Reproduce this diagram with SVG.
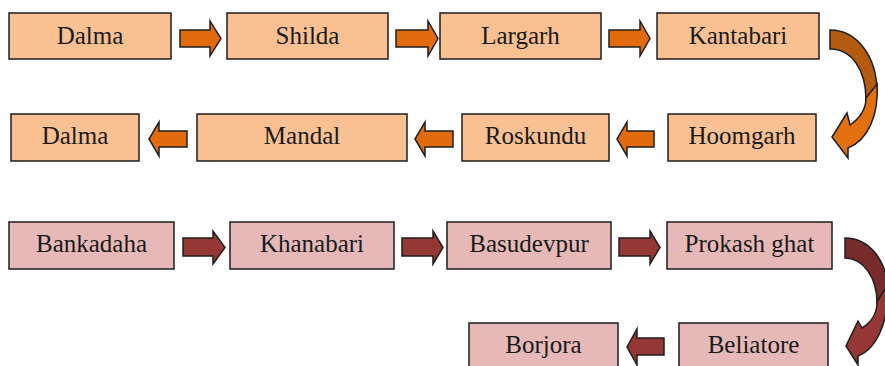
<svg xmlns="http://www.w3.org/2000/svg" width="885" height="366" viewBox="0 0 885 366">
<style>
.bo{fill:#F9C092;stroke:#1e1e1e;stroke-width:1.5}
.bp{fill:#E6B9B8;stroke:#1e1e1e;stroke-width:1.5}
.ao{fill:#E26C0D;stroke:#1e1e1e;stroke-width:1.5;stroke-linejoin:miter}
.ap{fill:#953735;stroke:#1e1e1e;stroke-width:1.5;stroke-linejoin:miter}
.cv{stroke:#1e1e1e;stroke-width:1.5;stroke-linejoin:miter}
text{font-family:"Liberation Serif","Times New Roman",serif;font-size:25px;fill:#1a1a1a;text-anchor:middle}
</style>
<rect width="885" height="366" fill="#fff"/>
<g id="n-dalma1"><rect class="bo" x="9" y="13" width="162" height="46"/><text x="90" y="44">Dalma</text></g>
<g id="n-shilda"><rect class="bo" x="227" y="13" width="161" height="46"/><text x="307.5" y="44">Shilda</text></g>
<g id="n-largarh"><rect class="bo" x="440" y="13" width="161" height="46"/><text x="520.5" y="44">Largarh</text></g>
<g id="n-kantabari"><rect class="bo" x="657" y="13" width="162" height="46"/><text x="738" y="44">Kantabari</text></g>
<g id="n-dalma2"><rect class="bo" x="11" y="114" width="128" height="47"/><text x="75" y="144">Dalma</text></g>
<g id="n-mandal"><rect class="bo" x="197" y="114" width="210" height="47"/><text x="302" y="144">Mandal</text></g>
<g id="n-roskundu"><rect class="bo" x="462" y="114" width="147" height="47"/><text x="535.5" y="144">Roskundu</text></g>
<g id="n-hoomgarh"><rect class="bo" x="668" y="114" width="148" height="47"/><text x="742" y="144">Hoomgarh</text></g>
<g id="n-bankadaha"><rect class="bp" x="9" y="222" width="165" height="47"/><text x="91.5" y="252">Bankadaha</text></g>
<g id="n-khanabari"><rect class="bp" x="230" y="222" width="164" height="47"/><text x="312" y="252">Khanabari</text></g>
<g id="n-basudevpur"><rect class="bp" x="447" y="222" width="164" height="47"/><text x="529" y="252">Basudevpur</text></g>
<g id="n-prokash"><rect class="bp" x="667" y="222" width="165" height="47"/><text x="749.5" y="252">Prokash ghat</text></g>
<g id="n-borjora"><rect class="bp" x="469" y="323" width="149" height="50"/><text x="543.5" y="353">Borjora</text></g>
<g id="n-beliatore"><rect class="bp" x="679" y="323" width="149" height="50"/><text x="753.5" y="353">Beliatore</text></g>
<g id="connectors">
<path class="ao" d="M180,30H210V21L221,38.5L210,56V47H180Z"/>
<path class="ao" d="M396,30H428V21L438,38.5L428,56V47H396Z"/>
<path class="ao" d="M609,30H640V21L650,38.5L640,56V47H609Z"/>
<path class="ao" d="M187,131H159V122L149,139L159,156V147H187Z"/>
<path class="ao" d="M453,131H425V122L415,139L425,156V147H453Z"/>
<path class="ao" d="M654,131H627V122L617,139L627,156V147H654Z"/>
<path class="ap" d="M183,238H213V231L225,247.5L213,264V256H183Z"/>
<path class="ap" d="M402,238H433V231L443,247.5L433,264V256H402Z"/>
<path class="ap" d="M619,238H650V231L660,247.5L650,264V256H619Z"/>
<path class="ap" d="M664,338H637V329L627,347L637,365V355H664Z"/>
<path class="cv" fill="#B35B11" d="M830,30C858,30 877,58 877,92L866,100C866,70 852,49 830,49Z"/>
<path class="cv" fill="#E3700F" d="M877,84C879,115 868,140 848,148L848,158L832,137L847,113L850,125C860,118 866,108 866,98Z"/>
<path class="cv" fill="#772B2A" d="M845,238C870,238 888,262 888,292L877,303C877,276 862,258 845,258Z"/>
<path class="cv" fill="#953735" d="M888,284C889,320 878,348 858,356L858,365L846,346L858,321L862,328C872,322 877,312 877,302Z"/>
</g>
</svg>
